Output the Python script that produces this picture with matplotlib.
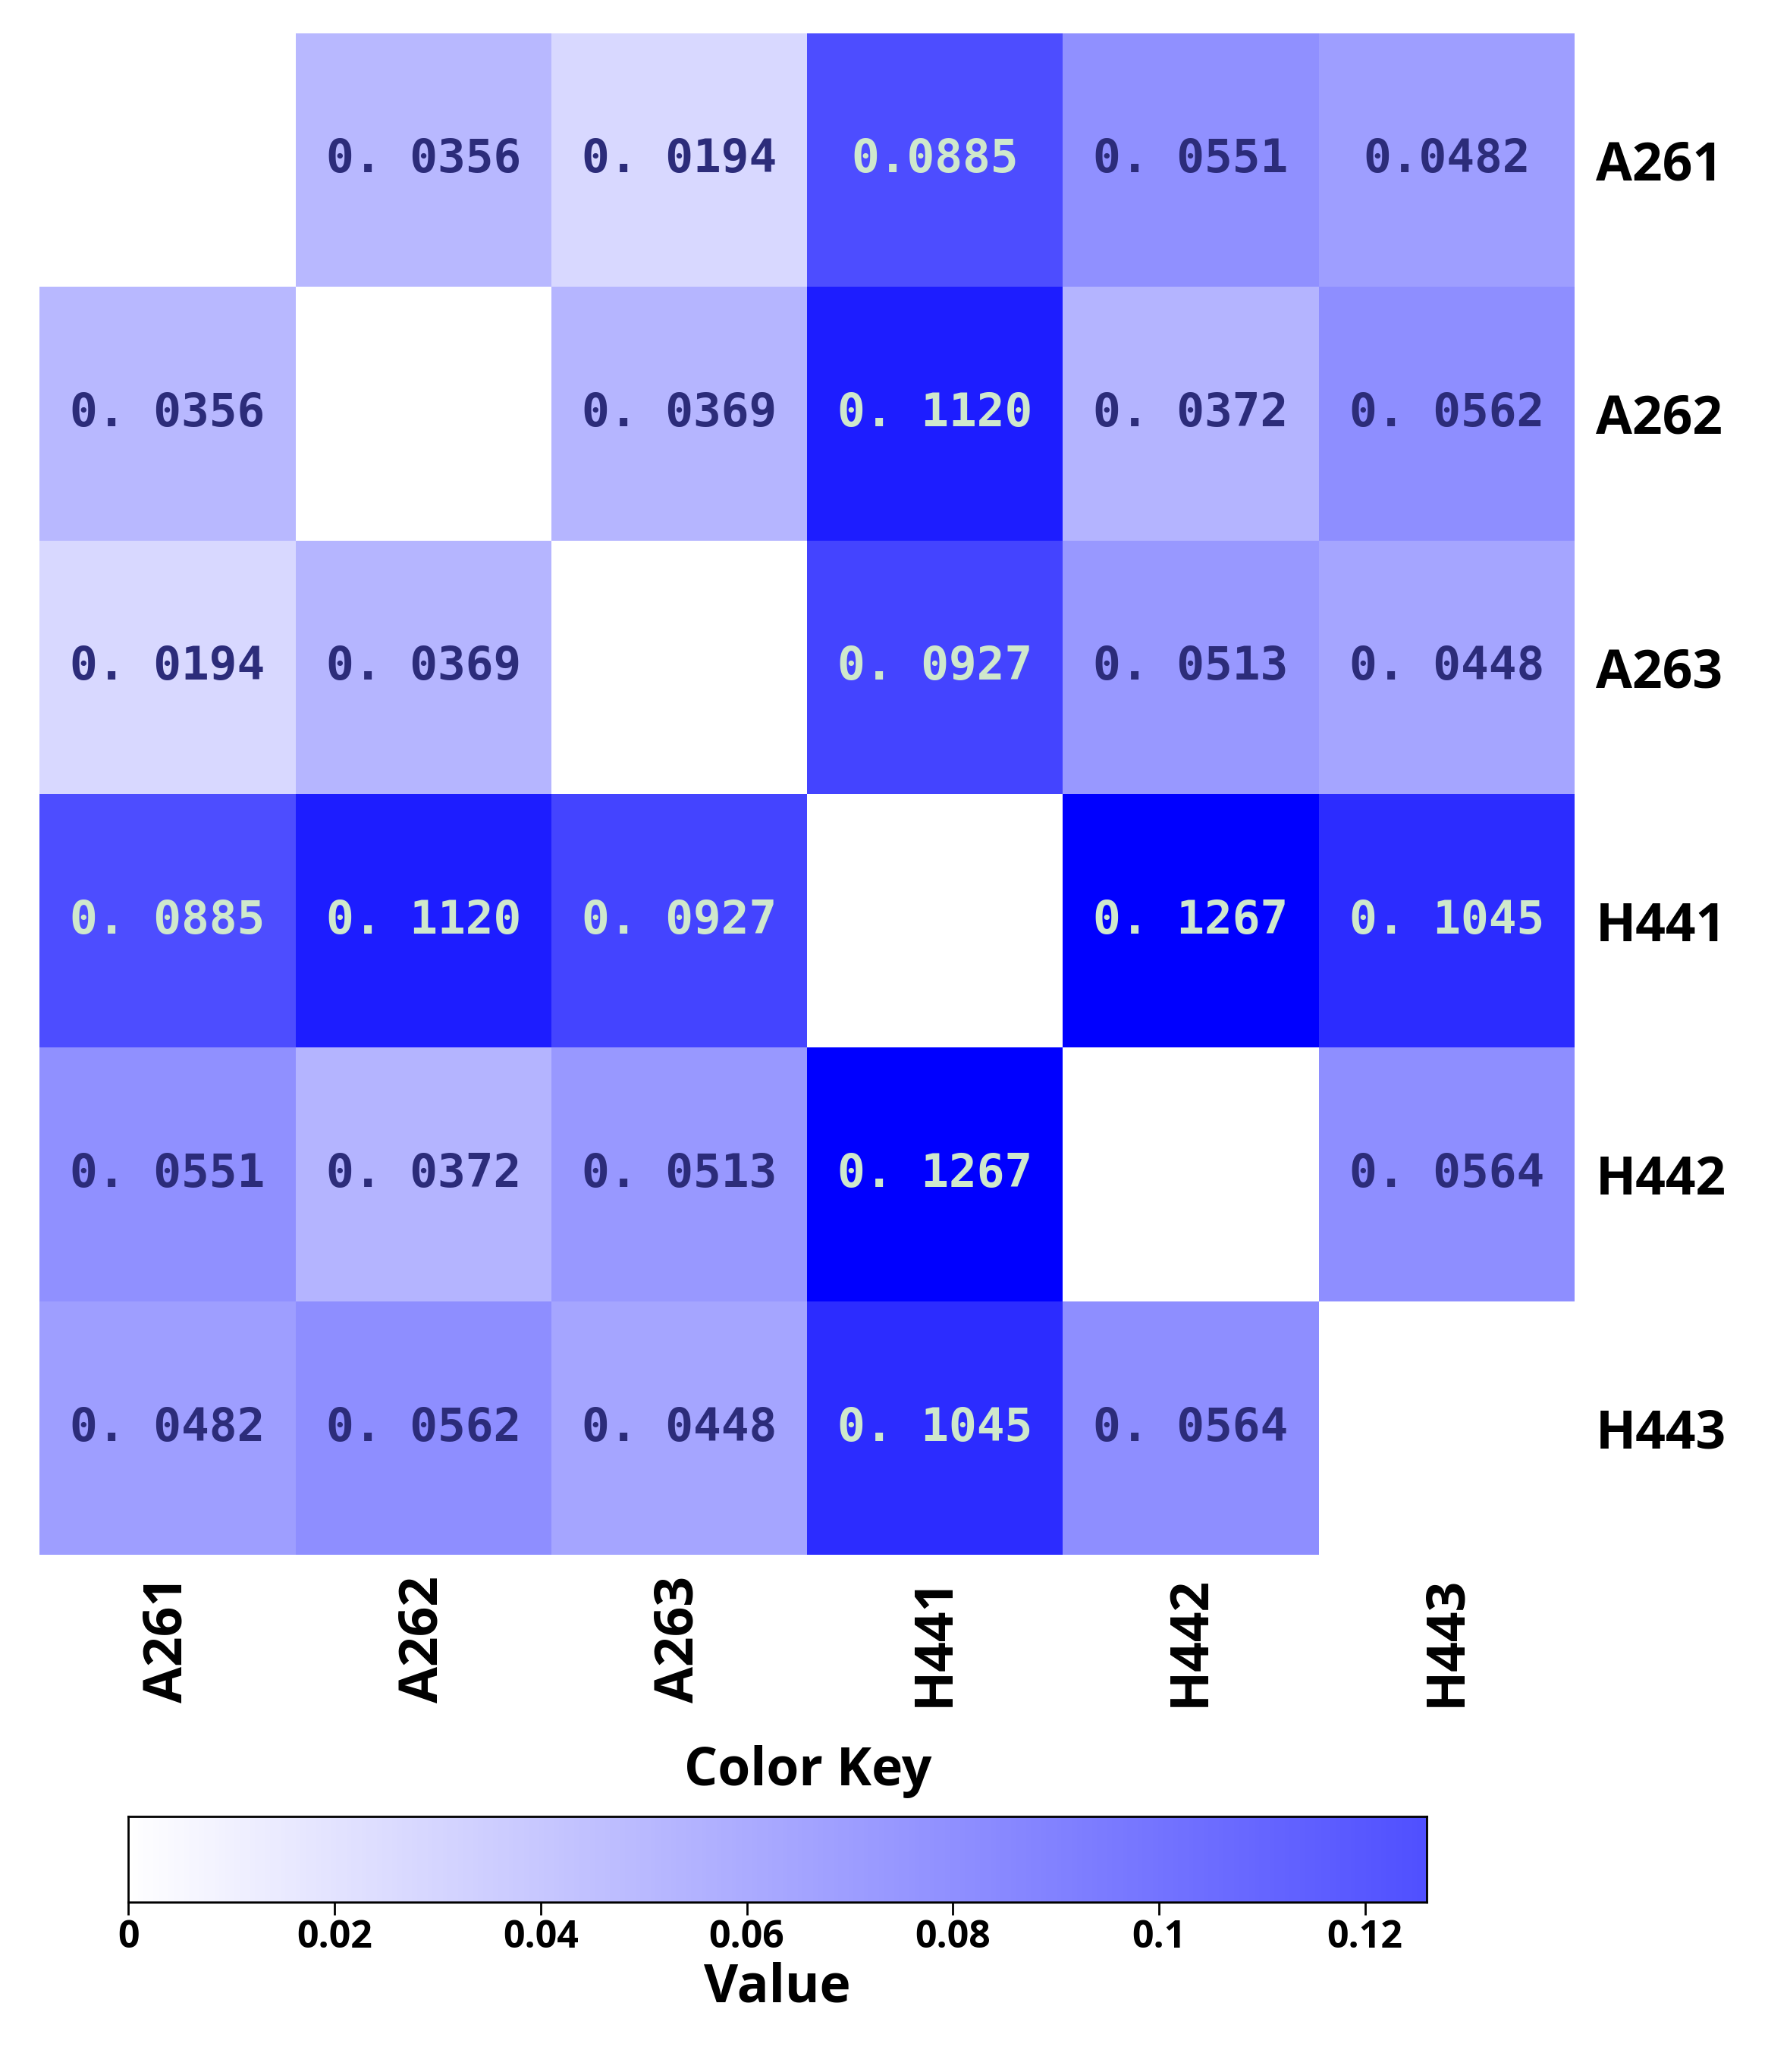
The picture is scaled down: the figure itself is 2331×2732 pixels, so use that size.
import numpy as np
import matplotlib
matplotlib.use("Agg")
import matplotlib.pyplot as plt
from matplotlib.colors import LinearSegmentedColormap

labels = ["A261", "A262", "A263", "H441", "H442", "H443"]
values = [
    [np.nan, 0.0356, 0.0194, 0.0885, 0.0551, 0.0482],
    [0.0356, np.nan, 0.0369, 0.1120, 0.0372, 0.0562],
    [0.0194, 0.0369, np.nan, 0.0927, 0.0513, 0.0448],
    [0.0885, 0.1120, 0.0927, np.nan, 0.1267, 0.1045],
    [0.0551, 0.0372, 0.0513, 0.1267, np.nan, 0.0564],
    [0.0482, 0.0562, 0.0448, 0.1045, 0.0564, np.nan],
]
texts = [
    ["", "0. 0356", "0. 0194", "0.0885", "0. 0551", "0.0482"],
    ["0. 0356", "", "0. 0369", "0. 1120", "0. 0372", "0. 0562"],
    ["0. 0194", "0. 0369", "", "0. 0927", "0. 0513", "0. 0448"],
    ["0. 0885", "0. 1120", "0. 0927", "", "0. 1267", "0. 1045"],
    ["0. 0551", "0. 0372", "0. 0513", "0. 1267", "", "0. 0564"],
    ["0. 0482", "0. 0562", "0. 0448", "0. 1045", "0. 0564", ""],
]
cbar_ticks = [0, 0.02, 0.04, 0.06, 0.08, 0.1, 0.12]
cbar_ticklabels = ["0", "0.02", "0.04", "0.06", "0.08", "0.1", "0.12"]

plt.rcParams['font.family'] = ['Open Sans', 'DejaVu Sans']
fig = plt.figure(figsize=(23.31, 27.32), dpi=100)

cmap = LinearSegmentedColormap.from_list("wb", ["#ffffff", "#0000ff"])
cmap.set_bad("white")
data = np.ma.masked_invalid(np.array(values))

ax = fig.add_axes([0.0225, 0.2495, 0.868, 0.7345])
ax.pcolormesh(data, cmap=cmap, vmin=0, vmax=0.1267)
ax.set_xlim(0, 6); ax.set_ylim(6, 0)
for i in range(6):
    for j in range(6):
        if texts[i][j]:
            v = values[i][j]
            c = "#cfe8cc" if v >= 0.085 else "#2c2c7a"
            ax.text(j + 0.5, i + 0.5, texts[i][j], ha="center", va="center",
                    fontsize=44, fontweight="bold", color=c,
                    family=["DejaVu Sans Mono", "DejaVu Sans"])
for s in ax.spines.values():
    s.set_visible(False)
ax.set_xticks(np.arange(6) + 0.5)
ax.set_xticklabels(labels, rotation=90, fontsize=50, fontweight="bold")
ax.yaxis.tick_right()
ax.set_yticks(np.arange(6) + 0.5)
ax.set_yticklabels(labels, fontsize=50, fontweight="bold")
ax.tick_params(length=0, pad=20)

fig.text(0.457, 0.145, "Color Key", ha="center", va="center", fontsize=50, fontweight="bold")

cmap2 = LinearSegmentedColormap.from_list("wb2", ["#ffffff", "#5050ff"])
cax = fig.add_axes([0.0727, 0.0819, 0.7343, 0.0416])
grad = np.linspace(0, 0.126, 256).reshape(1, -1)
cax.imshow(grad, aspect="auto", cmap=cmap2, extent=[0, 0.126, 0, 1], vmin=0, vmax=0.126)
cax.set_xlim(0, 0.126)
cax.set_yticks([])
cax.set_xticks(cbar_ticks)
cax.set_xticklabels(cbar_ticklabels, fontsize=36, fontweight="bold")
cax.tick_params(axis="x", length=12, width=2)
for s in cax.spines.values():
    s.set_linewidth(2)
cax.set_xlabel("Value", fontsize=50, fontweight="bold", labelpad=5)

fig.savefig("out.png", dpi=100, facecolor="white")
